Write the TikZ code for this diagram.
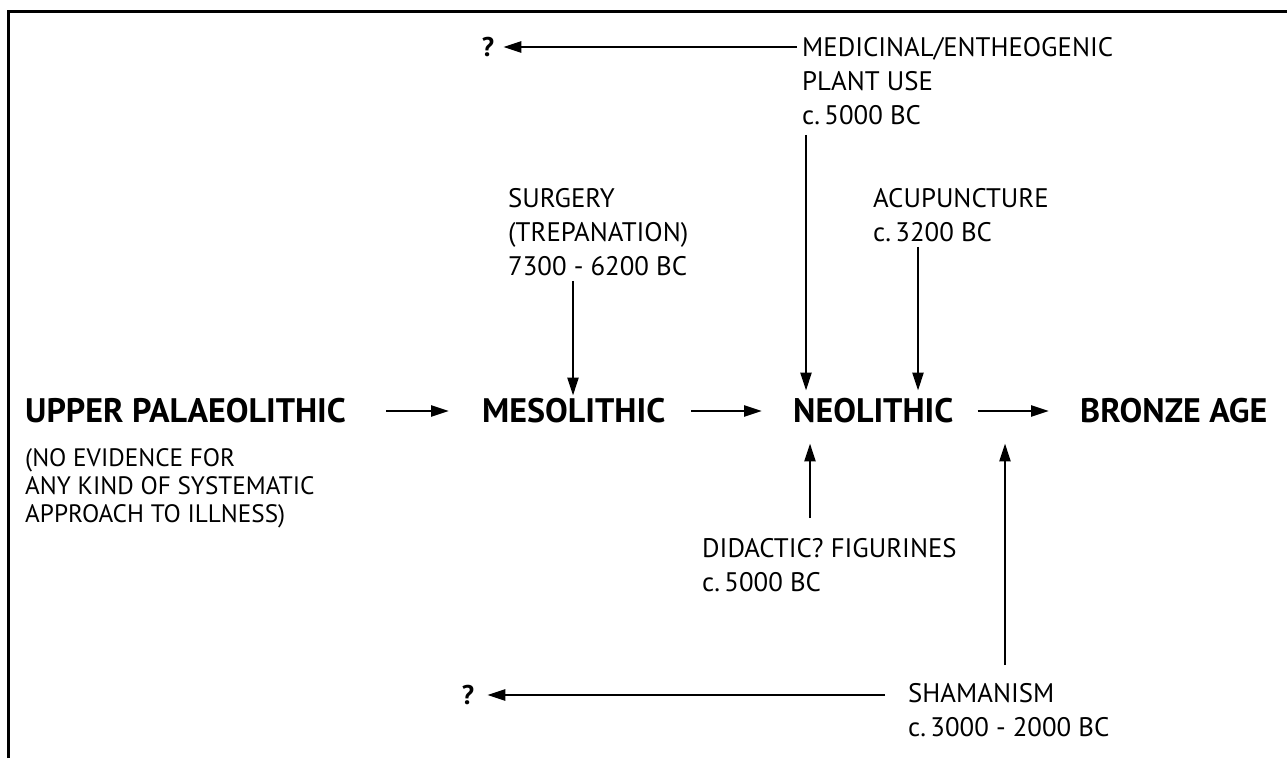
\documentclass[tikz,border=0pt]{standalone}
\usepackage{fontspec}
\setmainfont{PT Sans}
\usetikzlibrary{arrows.meta}
\begin{document}
\begin{tikzpicture}[x=1pt,y=-1pt,
  arr/.style={line width=2.5pt,-{Triangle[length=18pt,width=11pt]}},
  lbl/.style={anchor=north west,inner sep=0pt,align=left,font=\fontsize{26.8}{34}\selectfont},
  era/.style={anchor=west,inner sep=0pt,font=\fontsize{34}{40}\selectfont\bfseries,text height=23.5pt,text depth=0pt},
  q/.style={inner sep=0pt,font=\fontsize{27}{30}\selectfont\bfseries,text height=18.5pt,text depth=0pt}]
\useasboundingbox (0,0) rectangle (1287,758);
\draw[line width=3pt] (8.5,758) -- (8.5,11.3) -- (1287,11.3);
% eras
\node[era] (up) at (25,411) {UPPER PALAEOLITHIC};
\node[lbl,font=\fontsize{25.2}{28}\selectfont] (upn) at (25,448) {(NO EVIDENCE FOR\\ANY KIND OF SYSTEMATIC\\APPROACH TO ILLNESS)};
\node[era] (meso) at (482,411) {MESOLITHIC};
\node[era] (neo) at (793,411) {NEOLITHIC};
\node[era] (bronze) at (1080,411) {BRONZE AGE};
% labels
\node[lbl] (med) at (802,37) {MEDICINAL/ENTHEOGENIC\\PLANT USE\\c.\,5000 BC};
\node[lbl] (surg) at (508,188) {SURGERY\\(TREPANATION)\\7300 - 6200 BC};
\node[lbl] (acu) at (873,188) {ACUPUNCTURE\\c.\,3200 BC};
\node[lbl] (did) at (702,538) {DIDACTIC? FIGURINES\\c.\,5000 BC};
\node[lbl] (sham) at (908,683) {SHAMANISM\\c.\,3000 - 2000 BC};
\node[q] (q1) at (488,47) {?};
\node[q] (q2) at (468,695) {?};
% horizontal chain
\draw[arr,shorten <=40pt,shorten >=33pt] (up) -- (meso);
\draw[arr,shorten <=26pt,shorten >=31pt] (meso) -- (neo);
\draw[arr,shorten <=24pt,shorten >=31pt] (neo) -- (bronze);
% vertical arrows
\draw[arr,shorten <=5pt,shorten >=3.5pt] ([xshift=65pt]surg.south west) -- ([xshift=65pt]surg.south west |- meso.north);
\draw[arr,shorten <=10pt,shorten >=8.5pt] ([xshift=4pt]med.south west) -- ([xshift=4pt]med.south west |- neo.north);
\draw[arr,shorten <=5pt,shorten >=8.5pt] ([xshift=45pt]acu.south west) -- ([xshift=45pt]acu.south west |- neo.north);
\draw[arr,shorten <=20pt,shorten >=20.5pt] ([xshift=108pt]did.north west) -- ([xshift=108pt]did.north west |- neo.south);
\draw[arr,shorten <=18pt,shorten >=20.5pt] ([xshift=97pt]sham.north west) -- ([xshift=97pt]sham.north west |- neo.south);
% to question marks
\draw[arr,shorten <=5pt,shorten >=9pt] (q1 -| med.west) -- (q1);
\draw[arr,shorten <=23pt,shorten >=13pt] (q2 -| sham.west) -- (q2);
\end{tikzpicture}
\end{document}
